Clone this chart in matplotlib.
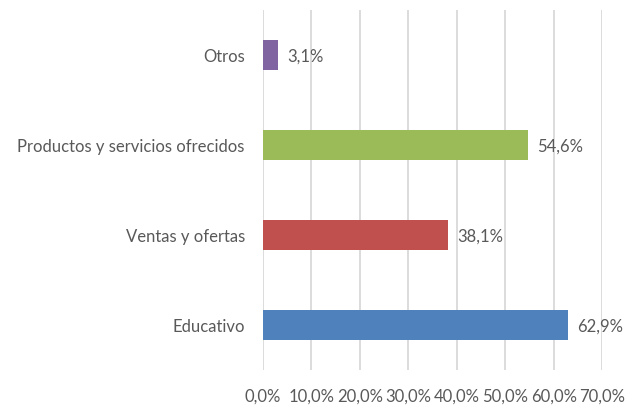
import matplotlib.pyplot as plt

categories = ['Educativo', 'Ventas y ofertas', 'Productos y servicios ofrecidos', 'Otros']
values = [62.9, 38.1, 54.6, 3.1]
colors = ['#4F81BD', '#C0504D', '#9BBB59', '#8064A2']
ticks = [0, 10, 20, 30, 40, 50, 60, 70]

plt.rcParams['font.family'] = ['Lato', 'DejaVu Sans']
textColor = '#595959'

fig = plt.figure(figsize=(6.38, 4.05), dpi=100)
ax = fig.add_axes([0.412, 0.086, 0.532, 0.889])
y = range(len(categories))
ax.barh(y, values, height=0.34, color=colors, zorder=3)
for i, v in enumerate(values):
    ax.annotate(f'{v:.1f}%'.replace('.', ','), (v, i), xytext=(7, -1),
                textcoords='offset points', va='center', ha='left',
                fontsize=12, color=textColor)

ax.set_xlim(0, 70)
ax.set_ylim(-0.5, 3.5)
ax.set_xticks(ticks)
ax.set_xticklabels([f'{t:.1f}%'.replace('.', ',') for t in ticks])
ax.set_yticks(list(y))
ax.set_yticklabels(categories)
ax.tick_params(length=0, labelsize=12, labelcolor=textColor)
ax.tick_params(axis='y', pad=13)
ax.tick_params(axis='x', pad=13)
ax.grid(axis='x', color='#D9D9D9', linewidth=1.3, zorder=0)
for s in ax.spines.values():
    s.set_visible(False)

plt.savefig('out.png')
